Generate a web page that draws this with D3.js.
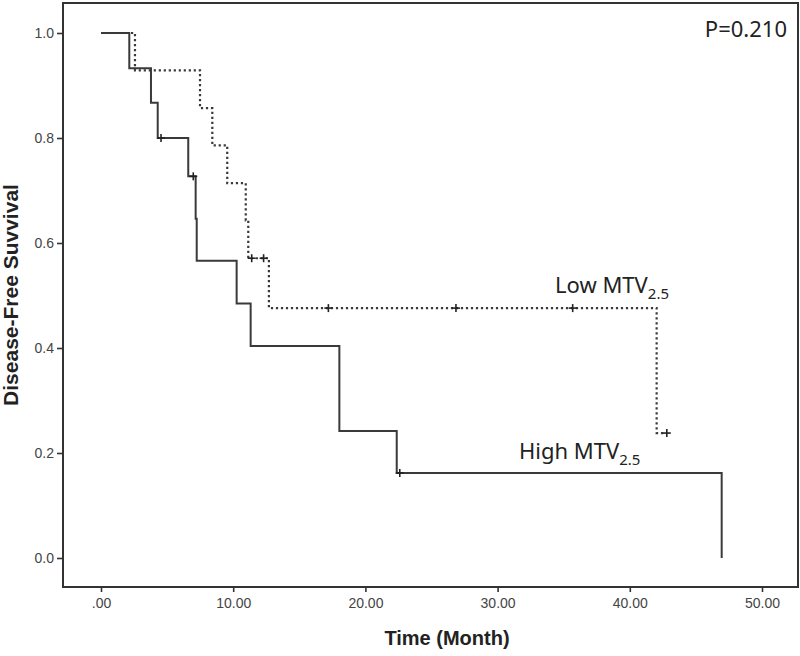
<!DOCTYPE html>
<html>
<head>
<meta charset="utf-8">
<script src="https://cdn.jsdelivr.net/npm/d3@7"></script>
<style>
  html, body { margin: 0; padding: 0; background: #fff; }
  svg { display: block; }
</style>
</head>
<body>
<svg id="chart" width="800" height="656"></svg>
<script>
// ---- Data ----
const highTimes = [0, 2.14, 3.78, 4.29, 6.6, 7.16, 7.24, 10.26, 11.32, 18.03, 22.37, 46.95];
const highSurv  = [1.0, 0.933, 0.867, 0.8, 0.727, 0.646, 0.566, 0.485, 0.404, 0.242, 0.162, 0.0];
const highCensor = [4.54, 6.98, 22.6];

const lowTimes = [0, 2.57, 7.49, 8.42, 9.55, 10.95, 11.14, 12.7, 42.03, 42.8];
const lowSurv  = [1.0, 0.929, 0.857, 0.786, 0.714, 0.643, 0.571, 0.476, 0.238, 0.238];
const lowCensor = [11.4, 12.3, 17.2, 26.85, 35.68, 42.8];

const xTickValues = [0, 10, 20, 30, 40, 50];
const xTickLabels = [".00", "10.00", "20.00", "30.00", "40.00", "50.00"];
const yTickValues = [0, 0.2, 0.4, 0.6, 0.8, 1.0];
const yTickLabels = ["0.0", "0.2", "0.4", "0.6", "0.8", "1.0"];

const pValueText = "P=0.210";
const yTitle = "Disease-Free Suvvival";
const xTitle = "Time (Month)";

// ---- Layout ----
const frame = { left: 63, right: 798, top: 3, bottom: 587 };
const svg = d3.select("#chart");

const x = d3.scaleLinear().domain([0, 50]).range([101, 762]);
const y = d3.scaleLinear().domain([0, 1]).range([558, 33]);

const ink = "#333";
const tickFont = "'Liberation Sans', Arial, sans-serif";

// frame
svg.append("rect")
  .attr("x", frame.left).attr("y", frame.top)
  .attr("width", frame.right - frame.left)
  .attr("height", frame.bottom - frame.top)
  .attr("fill", "none").attr("stroke", ink).attr("stroke-width", 2);

// axes
const yAxis = d3.axisLeft(y).tickValues(yTickValues)
  .tickFormat((d, i) => yTickLabels[i]).tickSize(6).tickPadding(3);
const gy = svg.append("g").attr("transform", `translate(${frame.left},0)`).call(yAxis);
gy.select(".domain").remove();
gy.selectAll(".tick line").attr("stroke", ink).attr("stroke-width", 1.6);
gy.selectAll(".tick text").attr("font-family", tickFont).attr("font-size", 14).attr("fill", "#444");

const xAxis = d3.axisBottom(x).tickValues(xTickValues)
  .tickFormat((d, i) => xTickLabels[i]).tickSize(5).tickPadding(6);
const gx = svg.append("g").attr("transform", `translate(0,${frame.bottom})`).call(xAxis);
gx.select(".domain").remove();
gx.selectAll(".tick line").attr("stroke", ink).attr("stroke-width", 1.6);
gx.selectAll(".tick text").attr("font-family", tickFont).attr("font-size", 14).attr("fill", "#444");

// titles
svg.append("text")
  .attr("transform", `translate(18,${(frame.top + frame.bottom) / 2}) rotate(-90)`)
  .attr("text-anchor", "middle")
  .attr("font-family", tickFont).attr("font-weight", "bold").attr("font-size", 21)
  .attr("fill", "#222")
  .text(yTitle);

svg.append("text")
  .attr("x", 447).attr("y", 645)
  .attr("text-anchor", "middle")
  .attr("font-family", tickFont).attr("font-weight", "bold").attr("font-size", 20)
  .attr("fill", "#222")
  .text(xTitle);

// curves
const stepLine = d3.line().x(d => x(d[0])).y(d => y(d[1])).curve(d3.curveStepAfter);
const highPts = highTimes.map((t, i) => [t, highSurv[i]]);
const lowPts = lowTimes.map((t, i) => [t, lowSurv[i]]);

svg.append("path").attr("d", stepLine(highPts))
  .attr("fill", "none").attr("stroke", "#3a3a3a").attr("stroke-width", 2);
svg.append("path").attr("d", stepLine(lowPts))
  .attr("fill", "none").attr("stroke", "#3a3a3a").attr("stroke-width", 2.2)
  .attr("stroke-dasharray", "2.2,2.8");

function survAt(times, surv, t) {
  let s = surv[0];
  for (let i = 0; i < times.length; i++) if (times[i] <= t) s = surv[i];
  return s;
}
function drawCensor(tArr, times, surv) {
  const g = svg.append("g").attr("stroke", "#222").attr("stroke-width", 1.6);
  tArr.forEach(t => {
    const cx = x(t), cy = y(survAt(times, surv, t));
    g.append("line").attr("x1", cx - 4).attr("x2", cx + 4).attr("y1", cy).attr("y2", cy);
    g.append("line").attr("x1", cx).attr("x2", cx).attr("y1", cy - 4).attr("y2", cy + 4);
  });
}
drawCensor(highCensor, highTimes, highSurv);
drawCensor(lowCensor, lowTimes, lowSurv);

// labels
const labFont = "'Noto Sans', 'Open Sans', sans-serif";
function groupLabel(px, py, main) {
  const t = svg.append("text").attr("x", px).attr("y", py)
    .attr("font-family", labFont).attr("font-size", 22).attr("fill", "#222");
  t.append("tspan").text(main);
  t.append("tspan").attr("font-size", 15).attr("dy", 6).text("2.5");
}
groupLabel(555, 293, "Low MTV");
groupLabel(519, 459, "High MTV");

svg.append("text").attr("x", 787).attr("y", 37).attr("text-anchor", "end")
  .attr("font-family", labFont).attr("font-size", 22).attr("fill", "#222")
  .text(pValueText);
</script>
</body>
</html>
